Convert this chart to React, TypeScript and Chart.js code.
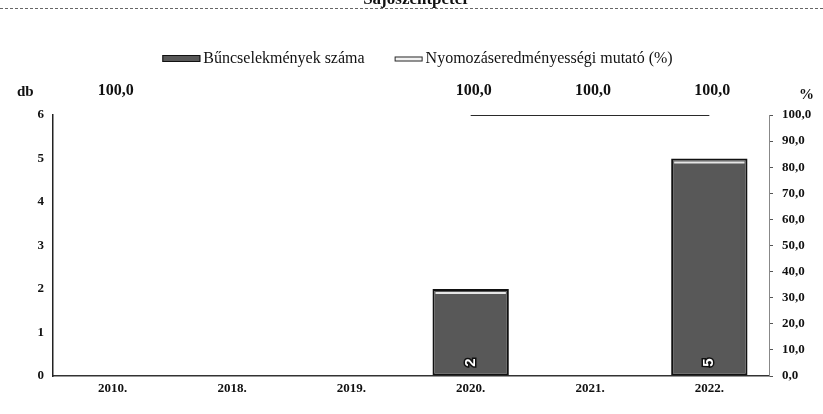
import React, { useEffect, useRef } from "react";
import { Chart, registerables } from "chart.js";

Chart.register(...registerables);

const chartTitle = "Sajószentpéter";
const categories = ["2010.", "2018.", "2019.", "2020.", "2021.", "2022."];
const crimeCounts = [0, 0, 0, 2, 0, 5];
const clearanceRates: (number | null)[] = [100, null, null, 100, 100, 100];
const seriesNames = ["Bűncselekmények száma", "Nyomozáseredményességi mutató (%)"];
const leftAxisTitle = "db";
const rightAxisTitle = "%";
const leftAxisMax = 6;
const rightAxisMax = 100;

const SERIF = '"Liberation Serif", "Times New Roman", serif';
const SANS = '"Liberation Sans", Arial, sans-serif';
const fmt = (v: number) => Number(v).toFixed(1).replace(".", ",");

const decorPlugin = {
  id: "decor",
  afterDatasetsDraw(chart: any) {
    const ctx = chart.ctx as CanvasRenderingContext2D;
    const area = chart.chartArea;
    // bar highlights and value labels
    const barMeta = chart.getDatasetMeta(0);
    barMeta.data.forEach((el: any, i: number) => {
      const v = crimeCounts[i];
      if (!v) return;
      const p = el.getProps(["x", "y", "width", "base"], true);
      ctx.save();
      ctx.fillStyle = "#e6e6e6";
      ctx.fillRect(p.x - p.width / 2 + 3, p.y + 3, p.width - 6, 2);
      ctx.translate(p.x, p.base - 13);
      ctx.rotate(-Math.PI / 2);
      ctx.font = "bold 15px " + SANS;
      ctx.textAlign = "center";
      ctx.textBaseline = "middle";
      ctx.lineWidth = 3;
      ctx.strokeStyle = "#111";
      ctx.strokeText(String(v), 0, 0);
      ctx.fillStyle = "#fff";
      ctx.fillText(String(v), 0, 0);
      ctx.restore();
    });
    // line value labels
    const lineMeta = chart.getDatasetMeta(1);
    lineMeta.data.forEach((el: any, i: number) => {
      const v = clearanceRates[i];
      if (v === null || v === undefined) return;
      const p = el.getProps(["x", "y"], true);
      ctx.save();
      ctx.font = "bold 16px " + SERIF;
      ctx.fillStyle = "#111";
      ctx.textAlign = "center";
      ctx.textBaseline = "middle";
      ctx.fillText(fmt(v), p.x + 3, p.y - 24);
      ctx.restore();
    });
    // axis titles
    ctx.save();
    ctx.font = "bold 15px " + SERIF;
    ctx.fillStyle = "#111";
    ctx.textBaseline = "middle";
    ctx.textAlign = "left";
    ctx.fillText(leftAxisTitle, 17, area.top - 23);
    ctx.textAlign = "right";
    ctx.fillText(rightAxisTitle, chart.width - 9, area.top - 20);
    ctx.restore();
  },
  afterDraw(chart: any) {
    const ctx = chart.ctx as CanvasRenderingContext2D;
    const W = chart.width;
    // cut-off title and header rule
    ctx.save();
    ctx.font = "bold 17px " + SERIF;
    ctx.fillStyle = "#111";
    ctx.textAlign = "center";
    ctx.textBaseline = "alphabetic";
    ctx.fillText(chartTitle, W / 2 + 5, 4);
    ctx.strokeStyle = "#666";
    ctx.lineWidth = 1;
    ctx.setLineDash([3, 2]);
    ctx.beginPath();
    ctx.moveTo(0, 8.5);
    ctx.lineTo(W, 8.5);
    ctx.stroke();
    ctx.restore();
    // legend
    ctx.save();
    ctx.font = "16px " + SERIF;
    ctx.textBaseline = "middle";
    const ds = chart.data.datasets;
    const boxW = [38, 28];
    const gapBox = 3;
    const gapItem = 30;
    const widths = seriesNames.map((n, i) => boxW[i] + gapBox + ctx.measureText(n).width);
    const total = widths[0] + widths[1] + gapItem;
    let x = W / 2 - total / 2 + 6;
    const y = 59;
    seriesNames.forEach((name, i) => {
      if (i === 0) {
        ctx.fillStyle = ds[0].backgroundColor;
        ctx.fillRect(x, y - 4, boxW[0], 7);
        ctx.strokeStyle = "#111";
        ctx.lineWidth = 1;
        ctx.strokeRect(x + 0.5, y - 3.5, boxW[0] - 1, 6);
      } else {
        ctx.fillStyle = "#f2f2f2";
        ctx.fillRect(x, y - 2.5, boxW[1], 5);
        ctx.strokeStyle = ds[1].borderColor;
        ctx.lineWidth = 1;
        ctx.strokeRect(x + 0.5, y - 2, boxW[1] - 1, 4);
      }
      ctx.fillStyle = "#111";
      ctx.textAlign = "left";
      ctx.fillText(name, x + boxW[i] + gapBox, y);
      x += widths[i] + gapItem;
    });
    ctx.restore();
  },
};

export default function App() {
  const ref = useRef<HTMLCanvasElement>(null);
  useEffect(() => {
    const chart = new Chart(ref.current as HTMLCanvasElement, {
      data: {
        labels: categories,
        datasets: [
          {
            type: "bar",
            label: seriesNames[0],
            data: crimeCounts,
            yAxisID: "y",
            backgroundColor: "#585858",
            borderColor: "#111",
            borderWidth: 2,
            borderSkipped: false,
            barPercentage: 0.64,
            categoryPercentage: 1,
            order: 2,
          },
          {
            type: "line",
            label: seriesNames[1],
            data: clearanceRates,
            yAxisID: "y1",
            borderColor: "#2a2a2a",
            backgroundColor: "#2a2a2a",
            borderWidth: 2,
            pointRadius: 0,
            pointHoverRadius: 0,
            spanGaps: false,
            tension: 0,
            order: 1,
          },
        ],
      } as any,
      options: {
        responsive: false,
        animation: false,
        layout: { padding: { top: 115, left: 0, right: 0, bottom: 0 } },
        plugins: {
          legend: { display: false },
          title: { display: false },
          tooltip: { enabled: false },
        },
        scales: {
          x: {
            type: "category",
            grid: { display: false, drawTicks: false },
            border: { display: true, color: "#333", width: 1.5 },
            ticks: {
              font: { family: SERIF, size: 13, weight: "bold" },
              color: "#111",
              padding: 5,
              maxRotation: 0,
            },
            afterFit: (s: any) => {
              s.height = 38;
            },
          },
          y: {
            position: "left",
            min: 0,
            max: leftAxisMax,
            grid: { drawOnChartArea: false, drawTicks: false },
            border: { display: true, color: "#222", width: 1.5 },
            ticks: {
              stepSize: 1,
              font: { family: SERIF, size: 13, weight: "bold" },
              color: "#111",
              padding: 9,
            },
            afterFit: (s: any) => {
              s.width = 53;
            },
          },
          y1: {
            position: "right",
            min: 0,
            max: rightAxisMax,
            grid: { drawOnChartArea: false, drawTicks: true, tickLength: 4, color: "#555" },
            border: { display: true, color: "#888", width: 1, dash: [2, 2] },
            ticks: {
              stepSize: 10,
              font: { family: SERIF, size: 13, weight: "bold" },
              color: "#111",
              padding: 9,
              callback: (v: any) => fmt(Number(v)),
            },
            afterFit: (s: any) => {
              s.width = 54;
            },
          },
        },
      } as any,
      plugins: [decorPlugin],
    });
    return () => chart.destroy();
  }, []);
  return (
    <div style={{ position: "absolute", left: 0, top: 0, width: 823, height: 414, background: "#fff" }}>
      <canvas ref={ref} width={823} height={414} style={{ display: "block" }} />
    </div>
  );
}
